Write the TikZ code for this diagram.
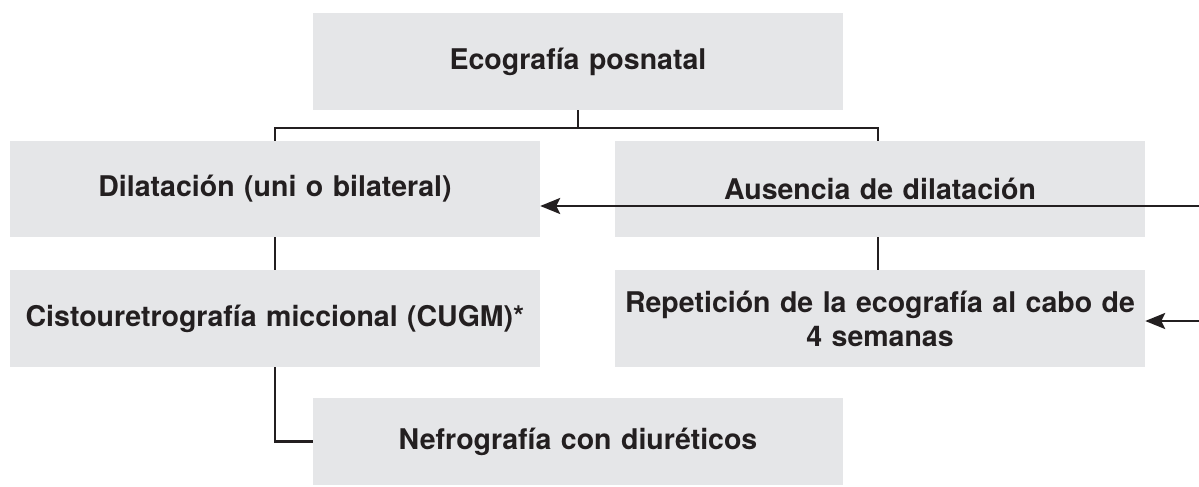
\documentclass[tikz,border=0pt]{standalone}
\usepackage{fontspec}
\setmainfont{TeX Gyre Heros}
\usepackage{xcolor}
\usetikzlibrary{arrows.meta,positioning,calc}

\definecolor{boxgray}{HTML}{E5E6E8}
\definecolor{inkdark}{HTML}{231F20}

\begin{document}
\begin{tikzpicture}[
        x=1pt, y=-1pt,
        font=\fontsize{28.5}{34}\selectfont\bfseries,
        box/.style={rectangle, fill=boxgray, text=inkdark, minimum width=530pt, minimum height=97pt, inner sep=0pt, text width=525pt, align=center},
        link/.style={draw=inkdark, line width=2.8pt},
        feed/.style={link, -{Stealth[length=20pt, width=16pt, inset=4pt]}}
    ]
    \useasboundingbox (0,0) rectangle (1199,487);

    % Screening
    \node[box] (eco) at (578,61.5) {Ecografía posnatal};

    % First result row
    \node[box, minimum height=96pt] (dil) at (275,189) {Dilatación (uni o bilateral)};
    \node[box, minimum height=96pt] (aus) at (880,189) {Ausencia de dilatación};

    % Follow-up row
    \node[box] (cugm) at (275,318.5) {Cistouretrografía miccional (CUGM)*};
    \node[box] (rep) at (880,318.5) {Repetición de la ecografía al cabo de\\4 semanas};

    % Last step
    \node[box, minimum height=87pt] (nef) at (578,441.5) {Nefrografía con diuréticos};

    % Incoming ends at the right border
    \coordinate (split) at (578,128);
    \coordinate (in1) at (1199,206);
    \coordinate (in2) at (1199,321);

    % Connections
    \draw[link] (eco.south) -- (split);
    \draw[link] (split) -| (dil.north);
    \draw[link] (split) -| ([xshift=-2pt]aus.north);
    \draw[link] (dil.south) -- (cugm.north);
    \draw[link] ([xshift=-2pt]aus.south) -- ([xshift=-2pt]rep.north);
    \draw[link] (cugm.south) |- (nef.west);
    \draw[feed] (in1) -- (dil.east |- in1);
    \draw[feed] (in2) -- (rep.east |- in2);

    \end{tikzpicture}
\end{document}
